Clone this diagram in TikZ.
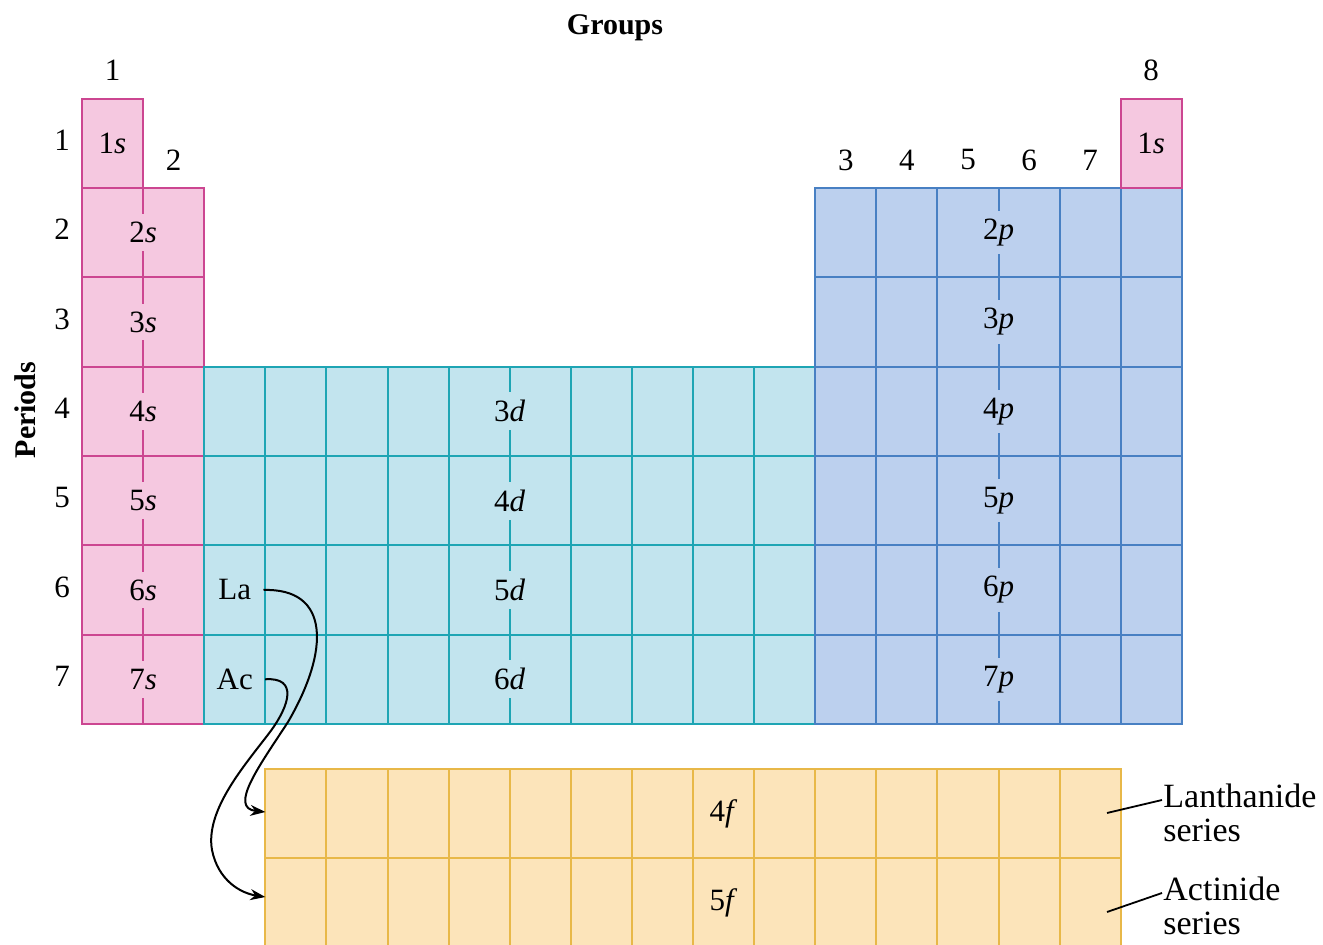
\documentclass[tikz,border=0pt]{standalone}
\usepackage{fontspec}
\setmainfont{Liberation Serif}
\usetikzlibrary{arrows.meta,calc}
\definecolor{sfill}{RGB}{245,200,224}
\definecolor{sline}{RGB}{204,70,145}
\definecolor{dfill}{RGB}{194,228,238}
\definecolor{dline}{RGB}{30,165,180}
\definecolor{pfill}{RGB}{188,208,238}
\definecolor{pline}{RGB}{72,128,195}
\definecolor{ffill}{RGB}{252,228,186}
\definecolor{fline}{RGB}{232,184,72}
\tikzset{
  cell/.style={line width=1pt},
  lbl/.style={inner sep=1pt, font=\fontsize{15.5}{15.5}\selectfont},
  gap/.style={lbl, fill=#1, inner ysep=4pt},
  hdr/.style={font=\fontsize{15}{15}\selectfont\bfseries},
  ser/.style={anchor=north west, align=left, inner sep=0pt, font=\fontsize{17}{17}\selectfont},
  conn/.style={black, line width=1pt, -{Stealth[length=7.5pt,width=5.5pt]}},
}
\begin{document}
\begin{tikzpicture}[x=0.5pt,y=-0.5pt]
    \useasboundingbox (0,0) rectangle (1323,945);
    % s block
    \fill[sfill] (82,98.7) -- (143.1,98.7) -- (143.1,188) -- (204.2,188) -- (204.2,724) -- (82,724) -- cycle;
    \foreach \y in {188,277.3,366.7,456,545.3,634.7} \draw[sline,cell] (82,\y) -- (204.2,\y);
    \draw[sline,cell] (143.1,98.7) -- (143.1,724);
    \draw[sline,cell] (82,98.7) -- (143.1,98.7) -- (143.1,188) -- (204.2,188) -- (204.2,724) -- (82,724) -- cycle;
    % d block
    \fill[dfill] (204.2,366.7) rectangle (815.2,724);
    \foreach \i in {1,...,9} \draw[dline,cell] ({204.2+61.1*\i},366.7) -- ++(0,357.3);
    \foreach \y in {456,545.3,634.7} \draw[dline,cell] (204.2,\y) -- (815.2,\y);
    \draw[dline,cell] (204.2,366.7) rectangle (815.2,724);
    % p block
    \fill[pfill] (815.2,188) rectangle (1181.8,724);
    \foreach \i in {1,...,5} \draw[pline,cell] ({815.2+61.1*\i},188) -- ++(0,536);
    \foreach \y in {277.3,366.7,456,545.3,634.7} \draw[pline,cell] (815.2,\y) -- (1181.8,\y);
    \draw[pline,cell] (815.2,188) rectangle (1181.8,724);
    \filldraw[sline,fill=sfill,cell] (1120.7,98.7) rectangle (1181.8,188);
    % f block
    \fill[ffill] (265.3,769) rectangle (1120.7,948);
    \foreach \i in {1,...,13} \draw[fline,cell] ({265.3+61.1*\i},769) -- ++(0,179);
    \draw[fline,cell] (265.3,858.3) -- (1120.7,858.3);
    \draw[fline,cell] (265.3,769) rectangle (1120.7,948);
    % block labels
    \node[lbl] (s1) at (112.5,143.3) {1\textit{s}};
    \foreach \n in {2,...,7} \node[gap=sfill] (s\n) at (143.1,{98.67+(\n-0.5)*89.33}) {\n\textit{s}};
    \foreach \n/\m in {4/3,5/4,6/5,7/6} \node[gap=dfill] (d\n) at (509.7,{98.67+(\n-0.5)*89.33}) {\m\textit{d}};
    \foreach \n in {2,...,7} \node[gap=pfill] (p\n) at (998.5,{98.67+(\n-0.5)*89.33}) {\n\textit{p}};
    \node[lbl] (s8) at (1151.2,143.3) {1\textit{s}};
    \node[lbl] (f4) at (723.5,813.7) {4\textit{f}};
    \node[lbl] (f5) at (723.5,903) {5\textit{f}};
    \node[lbl] (la) at (234.75,590) {La};
    \node[lbl] (ac) at (234.75,679.3) {Ac};
    % numbers
    \foreach \n in {1,...,7} \node[lbl] (per\n) at (62,{95.67+(\n-0.5)*89.33}) {\n};
    \node[lbl] (grp1) at (112.5,70) {1};
    \node[lbl] (grp2) at (173.6,160) {2};
    \foreach \k in {3,...,7} \node[lbl] (grp\k) at ({845.8+61.1*(\k-3)},160) {\k};
    \node[lbl] (grp8) at (1151.2,70) {8};
    \node[hdr] (groups) at (615,28) {Groups};
    \node[hdr, rotate=90] (periods) at (25,410) {Periods};
    % series
    \coordinate (lan) at (265.3,812);
    \coordinate (act) at (265.3,897);
    \draw[conn] ([xshift=5pt]la.east) .. controls (330,588) and (330,650) .. (288,722) .. controls (260,765) and (228,808) .. (lan);
    \draw[conn] ([xshift=5pt]ac.east) .. controls (298,677) and (290,705) .. (270,732) .. controls (245,765) and (205,810) .. (212,850) .. controls (218,880) and (240,893) .. (act);
    \node[ser] (lanlbl) at (1163,784) {Lanthanide\\series};
    \node[ser] (actlbl) at (1163,877) {Actinide\\series};
    \coordinate (lanpt) at (1107,813);
    \coordinate (actpt) at (1107,912);
    \draw[black, line width=0.9pt] (lanpt) -- ($(lanlbl.north west)+(-1,16)$);
    \draw[black, line width=0.9pt] (actpt) -- ($(actlbl.north west)+(-1,16)$);
\end{tikzpicture}
\end{document}
